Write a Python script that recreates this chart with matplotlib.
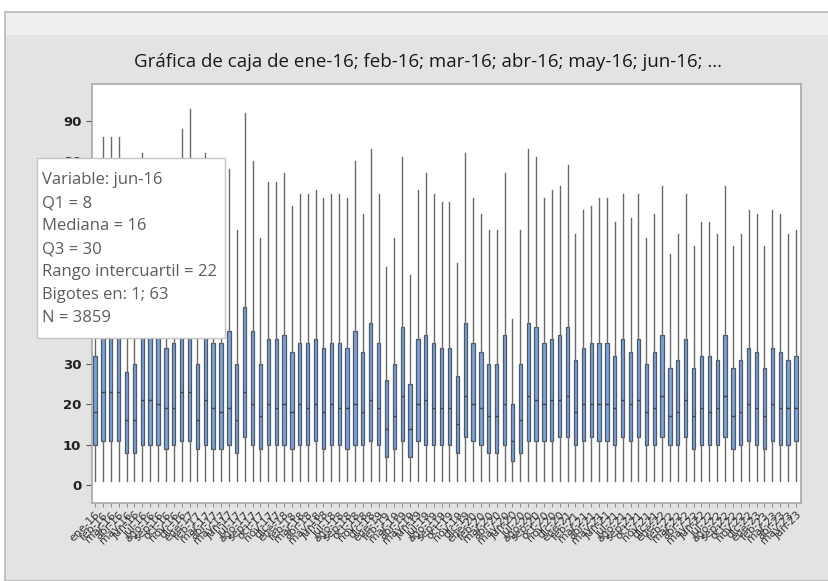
import numpy as np
import matplotlib.pyplot as plt
from matplotlib.patches import Rectangle

# data (one entry per month, ene-16 .. jun-23)
months = ['ene', 'feb', 'mar', 'abr', 'may', 'jun', 'jul', 'ago', 'sep', 'oct', 'nov', 'dic']
years = ['16', '17', '18', '19', '20', '21', '22', '23']
n_boxes = 90
labels = [m + '-' + y for y in years for m in months][:n_boxes]

q1 = [10, 11, 11, 11, 8, 8, 10, 10, 10, 9, 10, 11, 11, 9, 10,
      9, 9, 10, 8, 12, 10, 9, 10, 10, 10, 9, 10, 10, 11, 9,
      10, 10, 9, 10, 10, 11, 10, 7, 9, 11, 7, 11, 10, 10, 10,
      10, 8, 12, 11, 10, 8, 8, 10, 6, 8, 11, 11, 11, 11, 12,
      12, 10, 11, 12, 11, 11, 10, 12, 11, 12, 10, 10, 12, 10, 10,
      12, 9, 10, 10, 10, 12, 9, 10, 11, 10, 9, 11, 10, 10, 11]
med = [18, 23, 23, 23, 16, 16, 21, 21, 20, 19, 19, 23, 23, 16, 21,
       19, 18, 19, 16, 23, 20, 17, 20, 19, 20, 18, 20, 19, 20, 18,
       20, 19, 19, 20, 18, 21, 19, 14, 17, 22, 14, 20, 21, 19, 19,
       19, 15, 22, 20, 19, 17, 17, 20, 11, 16, 22, 21, 20, 21, 21,
       22, 18, 20, 20, 20, 20, 19, 21, 20, 21, 18, 19, 22, 17, 18,
       21, 17, 19, 18, 19, 22, 17, 18, 20, 19, 17, 20, 19, 19, 19]
q3 = [32, 41, 41, 41, 28, 30, 39, 37, 37, 34, 35, 42, 44, 30, 39,
      35, 35, 38, 30, 44, 38, 30, 36, 36, 37, 33, 35, 35, 36, 34,
      35, 35, 34, 38, 33, 40, 35, 26, 30, 39, 25, 36, 37, 35, 34,
      34, 27, 40, 35, 33, 30, 30, 37, 20, 30, 40, 39, 35, 36, 37,
      39, 31, 34, 35, 35, 35, 32, 36, 33, 36, 30, 33, 37, 29, 31,
      36, 29, 32, 32, 31, 37, 29, 31, 34, 33, 29, 34, 33, 31, 32]
whis_hi = [65, 86, 86, 86, 58, 63, 82, 78, 77, 71, 72, 88, 93, 62, 82,
           74, 74, 78, 63, 92, 80, 61, 75, 75, 77, 69, 72, 72, 73, 71,
           72, 72, 71, 80, 67, 83, 72, 54, 61, 81, 52, 73, 77, 72, 70,
           70, 55, 82, 71, 67, 63, 63, 77, 41, 63, 83, 81, 71, 73, 74,
           79, 62, 68, 69, 71, 71, 65, 72, 66, 72, 61, 67, 74, 57, 62,
           72, 59, 65, 65, 62, 74, 59, 62, 68, 67, 59, 68, 67, 62, 63]
whis_lo = [1] * n_boxes

y_ticks = [0, 10, 20, 30, 40, 50, 60, 70, 80, 90]
# 40..70 sit under the tooltip in the screenshot
y_ticklabels = ['0', '10', '20', '30', '', '', '', '', '80', '90']

tip_lines = ['Variable: jun-16', 'Q1 = 8', 'Mediana = 16', 'Q3 = 30',
             'Rango intercuartil = 22', 'Bigotes en: 1; 63', 'N = 3859']

W, H = 829, 581
fig = plt.figure(figsize=(W / 100, H / 100), dpi=100)
fig.patch.set_facecolor('white')


def px(x0, y0, x1, y1):
    # pixel box (top-left origin) -> figure fraction rect
    return (x0 / W, 1 - y1 / H), (x1 - x0) / W, (y1 - y0) / H


# window frame / graph background
xy, w, h = px(5, 12, 829, 581)
fig.add_artist(Rectangle(xy, w, h, transform=fig.transFigure, fc='#e3e3e3',
                         ec='#b9b9b9', lw=1.2, zorder=-10))
xy, w, h = px(6, 13, 829, 35)
fig.add_artist(Rectangle(xy, w, h, transform=fig.transFigure, fc='#efefef',
                         ec='none', zorder=-9))

ax = fig.add_axes([91.7 / W, 1 - 503 / H, 709 / W, 419 / H])
ax.set_facecolor('white')

stats = []
for i in range(n_boxes):
    stats.append({'label': labels[i], 'q1': q1[i], 'med': med[i], 'q3': q3[i],
                  'whislo': whis_lo[i], 'whishi': whis_hi[i], 'fliers': []})

pos = np.arange(1, n_boxes + 1)
ax.bxp(stats, positions=pos, widths=0.42, patch_artist=True, showcaps=False,
       showfliers=False,
       boxprops=dict(facecolor='#7aa2d8', edgecolor='#4d5866', linewidth=0.9),
       medianprops=dict(color='#3e4652', linewidth=1.0),
       whiskerprops=dict(color='#6a6a6a', linewidth=1.0))

ax.set_xlim(0.58, 90.6)
ax.set_ylim(-4.4, 99.1)
ax.set_yticks(y_ticks)
ax.set_yticklabels(y_ticklabels)
ax.tick_params(axis='y', labelsize=9.5, labelcolor='#222222', color='#555555',
               length=4, width=0.8)
for t in ax.get_yticklabels():
    t.set_fontweight('semibold')
ax.set_xticks(pos)
ax.set_xticklabels(labels, rotation=45, ha='right', rotation_mode='anchor',
                   fontsize=7.8, color='#333333')
ax.tick_params(axis='x', length=3, width=0.7, color='#8a8a8a', pad=2)
for s in ax.spines.values():
    s.set_color('#a8a8a8')
    s.set_linewidth(1.2)

fig.text(428 / W, 1 - 62 / H,
         'Gráfica de caja de ene-16; feb-16; mar-16; abr-16; may-16; jun-16; ...',
         ha='center', va='center', fontsize=13.5, color='#1a1a1a',
         family=['Open Sans', 'DejaVu Sans'])

# hover tooltip from the screenshot
xy, w, h = px(37, 158, 225, 338)
fig.add_artist(Rectangle(xy, w, h, transform=fig.transFigure, fc='white',
                         ec='#c4c4c4', lw=1.0, zorder=20))
for k, line in enumerate(tip_lines):
    fig.text(42 / W, 1 - (180 + 23 * k) / H, line, ha='left', va='center',
             fontsize=12, color='#5c5c5c', zorder=21,
             family=['Open Sans', 'DejaVu Sans'])

plt.savefig('out.png', dpi=100)
